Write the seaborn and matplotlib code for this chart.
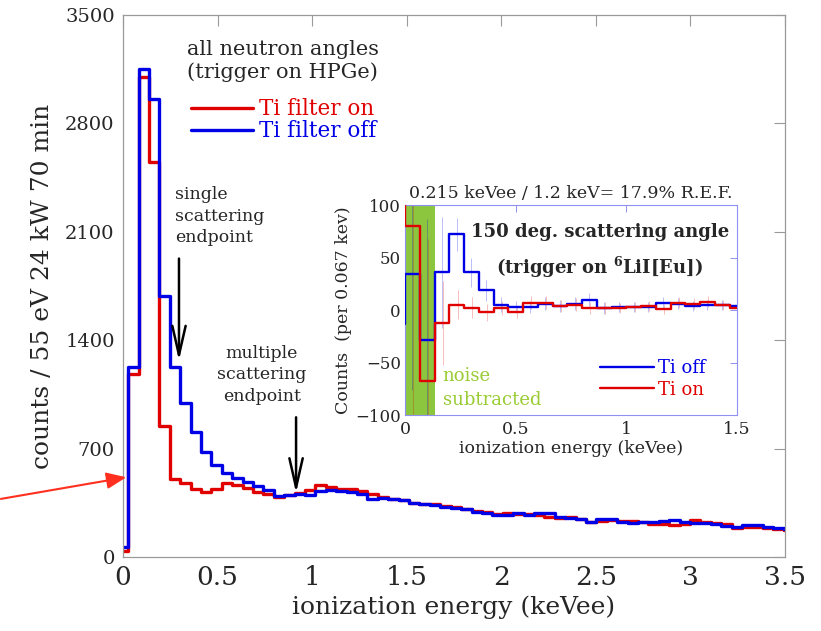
import numpy as np
import pandas as pd
import matplotlib
matplotlib.use("Agg")
import matplotlib.pyplot as plt
import seaborn as sns

# ---- main spectrum: 55 eV bins, bin centres at 0, 0.055, 0.110, ... keVee ----
bin_width = 0.055
ti_on_counts = [40, 1180, 3100, 2550, 845, 505, 477, 440, 418, 440,
                481, 466, 444, 422, 408, 390, 401, 412, 430, 465,
                455, 440, 440, 425, 405, 390, 375, 365, 350, 345,
                340, 330, 325, 310, 300, 290, 275, 285, 280, 275,
                270, 255, 250, 255, 245, 225, 230, 240, 235, 230,
                225, 215, 210, 207, 210, 240, 228, 220, 215, 185,
                192, 195, 185, 180, 175]
ti_off_counts = [65, 1230, 3150, 2960, 1685, 1230, 995, 810, 675, 595,
                 545, 513, 483, 459, 433, 395, 400, 405, 401, 429,
                 433, 427, 421, 408, 373, 380, 373, 365, 347, 343,
                 334, 326, 315, 309, 293, 283, 272, 272, 283, 270,
                 283, 283, 261, 250, 244, 229, 246, 244, 229, 222,
                 229, 229, 233, 239, 229, 222, 218, 213, 200, 192,
                 207, 207, 196, 186, 179]
main_xticks = [0, 0.5, 1, 1.5, 2, 2.5, 3, 3.5]
main_yticks = [0, 700, 1400, 2100, 2800, 3500]

# ---- inset: 150 deg scattering, 0.067 keV bins (first entry lies below 0) ----
inset_bin = 0.2 / 3
inset_ti_off = [-13, 34, -29, 36, 72, 36, 19, 5, 3, 3, 6, 4, 6, 10, 2, 3,
                3, 3, 7, 6, 4, 5, 5, 4]
inset_ti_on = [130, 80, -68, -12, 5, 2, -2, 2, -2, 7, 7, 4, 5, 2, 2, 2,
               3, 4, 1, 7, 6, 8, 5, 2]
inset_off_err = [0, 110, 116, 53, 16, 14, 10, 7, 6, 6, 6, 6, 6, 6, 6, 5,
                 5, 5, 5, 5, 5, 5, 5, 5]
inset_on_err = [0, 180, 136, 40, 14, 10, 8, 7, 6, 6, 6, 6, 6, 6, 6, 5,
                5, 5, 5, 5, 5, 5, 5, 5]
inset_xticks = [0, 0.5, 1, 1.5]
inset_yticks = [-100, -50, 0, 50, 100]
noise_band = (0, 2 * inset_bin)

RED = "#e00000"
BLUE = "#0000e6"
GREEN = "#8cc63f"
FRAME = "#9a9a9a"
INSET_FRAME = "#9090f0"

sns.set_style("white")
plt.rcParams["font.family"] = ["DejaVu Serif"]
plt.rcParams["mathtext.fontset"] = "dejavuserif"

main_df = pd.DataFrame({
    "energy": np.arange(len(ti_on_counts)) * bin_width,
    "on": ti_on_counts,
    "off": ti_off_counts,
})
inset_centres = (np.arange(len(inset_ti_on)) - 0.5) * inset_bin
inset_df = pd.DataFrame({
    "energy": inset_centres,
    "on": inset_ti_on,
    "off": inset_ti_off,
    "on_err": inset_on_err,
    "off_err": inset_off_err,
})

fig = plt.figure(figsize=(8.21, 6.31), dpi=100)
ax = fig.add_axes([0.1498, 0.1173, 0.8064, 0.8589])

sns.lineplot(data=main_df, x="energy", y="on", ax=ax, color=RED, lw=2.4,
             drawstyle="steps-mid", label="Ti filter on", errorbar=None)
sns.lineplot(data=main_df, x="energy", y="off", ax=ax, color=BLUE, lw=2.4,
             drawstyle="steps-mid", label="Ti filter off", errorbar=None)

ax.set_xlim(0, 3.5)
ax.set_ylim(0, 3500)
ax.set_xticks(main_xticks)
ax.set_xticklabels([f"{t:g}" for t in main_xticks])
ax.set_yticks(main_yticks)
ax.tick_params(axis="both", direction="in", length=8, width=0.8, color=FRAME,
               top=True, right=True)
ax.tick_params(axis="x", labelsize=19, pad=6)
ax.tick_params(axis="y", labelsize=14, pad=6)
for sp in ax.spines.values():
    sp.set_color(FRAME)
    sp.set_linewidth(0.9)
ax.set_xlabel("ionization energy (keVee)", fontsize=18, labelpad=4)
ax.set_ylabel("counts / 55 eV 24 kW 70 min", fontsize=18, labelpad=8)

leg = ax.legend(title="all neutron angles\n(trigger on HPGe)", loc="upper left",
                bbox_to_anchor=(0.068, 0.99), frameon=False, fontsize=15.5,
                title_fontsize=15, handlelength=2.9, handletextpad=0.25,
                labelspacing=0.0, labelcolor="linecolor")
leg._legend_box.sep = 12

ax.text(0.275, 2200, "single\nscattering\nendpoint", fontsize=12.5,
        ha="left", va="center", linespacing=1.35)
ax.text(0.735, 1178, "multiple\nscattering\nendpoint", fontsize=12.5,
        ha="center", va="center", multialignment="center", linespacing=1.35)
arrow_kw = dict(arrowstyle="->,head_length=1.4,head_width=0.32",
                lw=1.8, color="black", mutation_scale=15)
ax.annotate("", xy=(0.296, 1250), xytext=(0.296, 1945), arrowprops=arrow_kw)
ax.annotate("", xy=(0.915, 395), xytext=(0.915, 920), arrowprops=arrow_kw)
ax.annotate("", xy=(0.032, 518), xytext=(-0.66, 372), annotation_clip=False,
            arrowprops=dict(arrowstyle="-|>,head_length=0.6,head_width=0.25",
                            lw=1.5, color="#ff3020", mutation_scale=20))

# ---- inset ----
ax_in = fig.add_axes([0.4933, 0.3423, 0.4044, 0.3328])
ax_in.set_facecolor("white")
ax_in.axvspan(*noise_band, color=GREEN, lw=0, zorder=0)
ax_in.errorbar(inset_df["energy"], inset_df["off"], yerr=inset_df["off_err"],
               fmt="none", ecolor=BLUE, elinewidth=0.6, alpha=0.3, zorder=1)
ax_in.errorbar(inset_df["energy"] + 0.004, inset_df["on"], yerr=inset_df["on_err"],
               fmt="none", ecolor=RED, elinewidth=0.6, alpha=0.3, zorder=1)
sns.lineplot(data=inset_df, x="energy", y="off", ax=ax_in, color=BLUE, lw=1.7,
             drawstyle="steps-mid", label="Ti off", errorbar=None, zorder=3)
sns.lineplot(data=inset_df, x="energy", y="on", ax=ax_in, color=RED, lw=1.7,
             drawstyle="steps-mid", label="Ti on", errorbar=None, zorder=3)
ax_in.set_xlim(0, 1.5)
ax_in.set_ylim(-100, 100)
ax_in.set_xticks(inset_xticks)
ax_in.set_xticklabels([f"{t:g}" for t in inset_xticks])
ax_in.set_yticks(inset_yticks)
ax_in.tick_params(axis="both", direction="in", length=5, width=0.7,
                  color=INSET_FRAME, top=True, right=True)
ax_in.tick_params(axis="x", labelsize=12.5, pad=4)
ax_in.tick_params(axis="y", labelsize=12, pad=3)
for sp in ax_in.spines.values():
    sp.set_color(INSET_FRAME)
    sp.set_linewidth(0.8)
ax_in.set_xlabel("ionization energy (keVee)", fontsize=12.5, labelpad=2)
ax_in.set_ylabel("Counts  (per 0.067 kev)", fontsize=12.5, labelpad=2)
ax_in.set_title("0.215 keVee / 1.2 keV= 17.9% R.E.F.", fontsize=12.5, pad=5)
ax_in.text(0.88, 74, "150 deg. scattering angle", fontsize=13, weight="bold",
           ha="center", va="center")
ax_in.text(0.88, 41, r"(trigger on $^{\mathbf{6}}$LiI[Eu])", fontsize=13,
           weight="bold", ha="center", va="center")
ax_in.text(0.17, -63, "noise", fontsize=13, color="#99cc33", ha="left", va="center")
ax_in.text(0.17, -86, "subtracted", fontsize=13, color="#99cc33", ha="left",
           va="center")
ax_in.legend(loc="lower right", bbox_to_anchor=(0.955, 0.0), frameon=False,
             fontsize=13, handlelength=3.0, handletextpad=0.25,
             labelspacing=0.2, labelcolor="linecolor")

fig.savefig("out.png", dpi=100)
